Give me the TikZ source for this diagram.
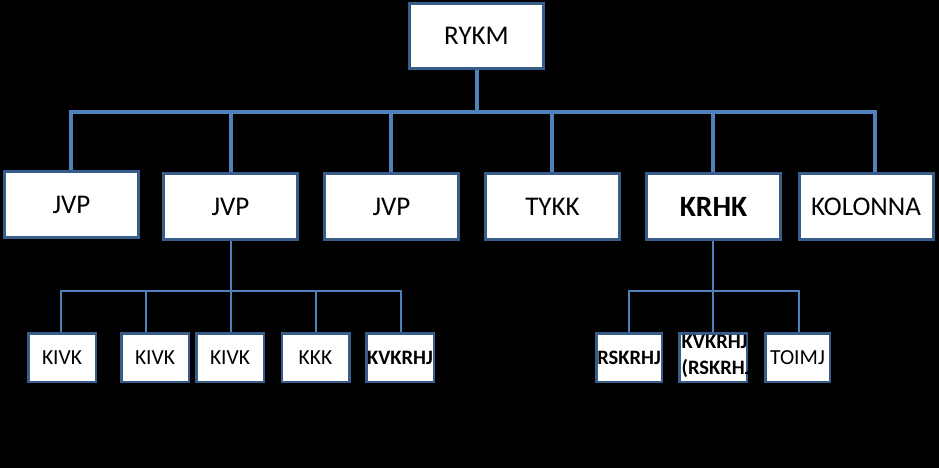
\documentclass[tikz,border=0pt]{standalone}
\usepackage{fontspec}
\setmainfont{Carlito}
\usetikzlibrary{backgrounds}
\definecolor{boxc}{HTML}{385D8A}
\definecolor{linec}{HTML}{4F81BD}
\begin{document}
\begin{tikzpicture}[x=1pt,y=-1pt,
  box/.style={draw=boxc, line width=3pt, fill=white, inner sep=0pt,
    minimum width=134pt, minimum height=66pt, font=\fontsize{27}{31}\selectfont},
  sbox/.style={draw=boxc, line width=2.5pt, fill=white, inner sep=0pt,
    minimum width=67.5pt, minimum height=48.5pt, font=\fontsize{21.5}{26}\selectfont},
  boldsmall/.style={font=\fontsize{20.5}{26}\selectfont\bfseries},
  bigline/.style={draw=linec, line width=4pt},
  smallline/.style={draw=linec, line width=1.5pt}]
\useasboundingbox (0,0) rectangle (939,468);

% top level
\node[box, minimum height=65pt] (rykm) at (476.5,36) {RYKM};
% second level
\node[box] (jvp1) at (71.5,204.5) {JVP};
\node[box] (jvp2) at (230.5,206.5) {JVP};
\node[box] (jvp3) at (391.5,206.5) {JVP};
\node[box] (tykk) at (552.5,206.5) {TYKK};
\node[box, font=\fontsize{29.5}{33}\selectfont\bfseries] (krhk) at (713.5,206.5) {KRHK};
\node[box] (kol) at (866,206.5) {KOLONNA};
% third level, left group
\node[sbox] (kivk1) at (62,357.5) {KIVK};
\node[sbox] (kivk2) at (155,357.5) {KIVK};
\node[sbox] (kivk3) at (230,357.5) {KIVK};
\node[sbox] (kkk) at (315.5,357.5) {KKK};
\node[sbox, boldsmall] (kvk1) at (400,357.5) {KVKRHJ};
% third level, right group
\node[sbox, minimum width=65.5pt, boldsmall] (rsk) at (629,357.5) {RSKRHJ};
\node[sbox] (kvk2) at (713,357.5) {};
\node[sbox, minimum width=64.5pt] (toimj) at (797.5,357.5) {TOIMJ};
\begin{scope}
  \clip ([xshift=1pt]kvk2.north west) rectangle ([xshift=0.5pt]kvk2.south east);
  \node[anchor=west, align=left, inner sep=0pt, boldsmall] (kvk2t) at (681.5,356) {KVKRHJ\\(RSKRHJ)};
\end{scope}

\begin{scope}[on background layer]
  \fill[black] (0,0) rectangle (939,468);
  % top level connectors
  \coordinate (bl) at (71,112);
  \coordinate (br) at (875,112);
  \draw[bigline] (rykm.south) -- (rykm.south |- bl);
  \draw[bigline, line cap=rect] (bl) -- (br);
  \coordinate (d1) at (71,112);
  \coordinate (d2) at (231,112);
  \coordinate (d3) at (391,112);
  \coordinate (d4) at (552,112);
  \coordinate (d5) at (713,112);
  \coordinate (d6) at (875,112);
  \draw[bigline] (d1) -- (d1 |- jvp1.north);
  \draw[bigline] (d2) -- (d2 |- jvp2.north);
  \draw[bigline] (d3) -- (d3 |- jvp3.north);
  \draw[bigline] (d4) -- (d4 |- tykk.north);
  \draw[bigline] (d5) -- (d5 |- krhk.north);
  \draw[bigline] (d6) -- (d6 |- kol.north);
  % left subtree
  \coordinate (lb1) at (61,291);
  \coordinate (lb2) at (146,291);
  \coordinate (lb3) at (231,291);
  \coordinate (lb4) at (316,291);
  \coordinate (lb5) at (401,291);
  \draw[smallline] (jvp2.south -| lb3) -- (lb3);
  \draw[smallline, line cap=rect] (lb1) -- (lb5);
  \draw[smallline] (lb1) -- (lb1 |- kivk1.north);
  \draw[smallline] (lb2) -- (lb2 |- kivk2.north);
  \draw[smallline] (lb3) -- (lb3 |- kivk3.north);
  \draw[smallline] (lb4) -- (lb4 |- kkk.north);
  \draw[smallline] (lb5) -- (lb5 |- kvk1.north);
  % right subtree
  \coordinate (rb1) at (629,291);
  \coordinate (rb2) at (713,291);
  \coordinate (rb3) at (799,291);
  \draw[smallline] (krhk.south -| rb2) -- (rb2);
  \draw[smallline, line cap=rect] (rb1) -- (rb3);
  \draw[smallline] (rb1) -- (rb1 |- rsk.north);
  \draw[smallline] (rb2) -- (rb2 |- kvk2.north);
  \draw[smallline] (rb3) -- (rb3 |- toimj.north);
\end{scope}
\end{tikzpicture}
\end{document}
